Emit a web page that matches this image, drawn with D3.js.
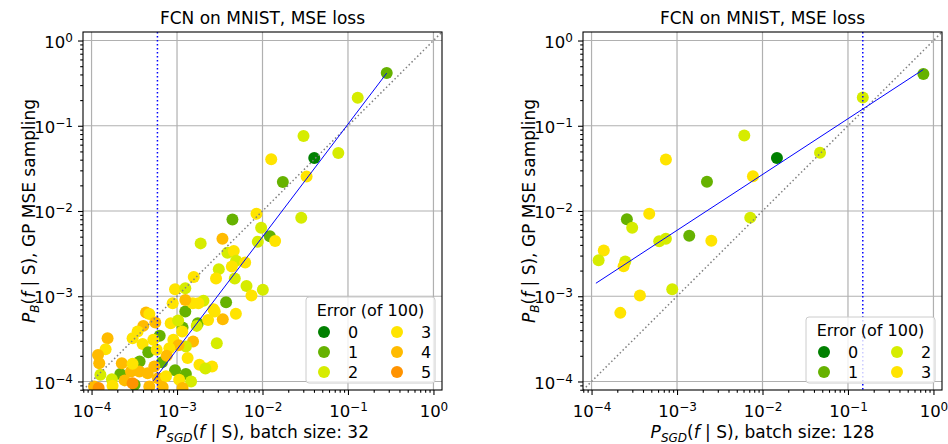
<!DOCTYPE html>
<html>
<head>
<meta charset="utf-8">
<script src="https://cdn.jsdelivr.net/npm/d3@7"></script>
<style>
  body { margin: 0; background: #fff; }
  svg { display: block; }
  text { font-family: "DejaVu Sans", sans-serif; fill: #000; }
</style>
</head>
<body>
<svg id="chart" width="948" height="444"></svg>
<script>
// ---- Data -------------------------------------------------------------
const errorLevels = [0, 1, 2, 3, 4, 5];
const errorColors = ["#008000", "#66b200", "#d6ec00", "#ffe400", "#ffbb00", "#ff9300"];
const majorTicks = [1e-4, 1e-3, 1e-2, 1e-1, 1];
const tickExponents = ["−4", "−3", "−2", "−1", "0"];

// batch size 32: P_SGD, P_B, number of errors
const sgd32 = [
  0.284, 0.130, 0.0302, 0.0403, 0.0771, 0.01265, 0.0328, 0.0173, 0.00851, 0.0284,
  0.00445, 0.00964, 0.01219, 0.01406, 0.00881, 0.00340, 0.00189, 0.00389, 0.00461, 0.00491,
  0.00627, 0.00438, 0.00308, 0.00286, 0.00474, 0.00157, 0.00650, 0.01009, 0.00743, 0.000948,
  0.00125, 0.00375, 0.00488, 0.00343, 0.00267, 0.00276, 0.00125, 0.00204, 0.00178, 0.00153,
  0.00125, 0.000889, 0.00175, 0.00170, 0.00231, 0.00116, 0.000843, 0.00103, 0.00292, 0.00154,
  0.00127, 0.00115, 0.000906, 0.00104, 0.000627, 0.000434, 0.000474, 0.000557, 0.000403, 0.000346,
  0.000302, 0.000528, 0.000396, 0.000154, 0.000146, 0.000119, 0.000123, 0.000127, 0.000461, 0.000365,
  0.000217, 0.000667, 0.000948, 0.00127, 0.000319, 0.00183, 0.00257, 0.00215, 0.00133, 0.000813,
  0.000757, 0.000226, 0.000289, 0.000362, 0.000453, 0.000173, 0.000244, 0.000598, 0.000743, 0.00106,
  0.00146, 0.000107, 0.000176, 0.000474, 0.000679, 0.00116, 0.000302, 0.000121, 0.000578, 0.000302,
  0.000542
];
const gp32 = [
  0.415, 0.213, 0.0759, 0.0419, 0.0480, 0.0405, 0.0254, 0.0219, 0.00927, 0.00832,
  0.00794, 0.00635, 0.00507, 0.00444, 0.00436, 0.00472, 0.00417, 0.00324, 0.00339, 0.00261,
  0.00249, 0.00224, 0.00208, 0.00161, 0.00161, 0.00168, 0.00132, 0.00119, 0.00102, 0.00121,
  0.00124, 0.000849, 0.000625, 0.000537, 0.000703, 0.000661, 0.000661, 0.000887, 0.000826, 0.000826,
  0.000904, 0.000826, 0.000482, 0.000449, 0.000527, 0.000429, 0.000482, 0.000518, 0.000281, 0.000294,
  0.000257, 0.000385, 0.000308, 0.000266, 0.000343, 0.000643, 0.000619, 0.000491, 0.000449, 0.000385,
  0.000321, 0.000308, 0.000276, 0.000321, 0.000239, 0.000205, 0.000164, 0.000120, 0.000220, 0.000171,
  0.000122, 0.000168, 0.000135, 0.000122, 0.0000914, 0.000157, 0.000150, 0.000142, 0.000188, 0.000245,
  0.000200, 0.000164, 0.000131, 0.000131, 0.000125, 0.000106, 0.000103, 0.000109, 0.000115, 0.000105,
  0.000100, 0.0000874, 0.0000889, 0.0000874, 0.0000859, 0.0000836, 0.0000955, 0.0000836, 0.000235, 0.000161,
  0.000150
];
const err32 = [
  1, 2, 2, 0, 2, 3, 3, 1, 3, 2,
  1, 2, 1, 3, 2, 4, 2, 2, 3, 2,
  3, 3, 2, 3, 2, 3, 2, 2, 3, 3,
  2, 1, 3, 4, 3, 3, 1, 2, 3, 3,
  4, 3, 1, 2, 3, 1, 3, 2, 2, 4,
  2, 3, 3, 4, 1, 4, 3, 4, 4, 3,
  3, 3, 3, 4, 3, 4, 4, 2, 1, 1,
  1, 1, 1, 1, 1, 3, 3, 2, 3, 3,
  4, 4, 4, 4, 4, 2, 4, 4, 3, 3,
  2, 4, 3, 4, 4, 4, 5, 5, 3, 3,
  4
];
const fit32 = [[0.000528, 0.000102], [0.284, 0.415]];
const cut32 = 0.00059;

// batch size 128: P_SGD, P_B, number of errors
const sgd128 = [
  0.762, 0.149, 0.00612, 0.01476, 0.0471, 0.000741, 0.00224, 0.00773, 0.000473, 0.000259,
  0.000299, 0.00719, 0.00139, 0.000619, 0.000741, 0.00252, 0.000139, 0.000121, 0.000248, 0.000237,
  0.000879, 0.000368, 0.000217
];
const gp128 = [
  0.406, 0.215, 0.0771, 0.0418, 0.0483, 0.0403, 0.0221, 0.0255, 0.00931, 0.00798,
  0.00638, 0.00836, 0.00514, 0.00442, 0.00474, 0.00449, 0.00343, 0.00264, 0.00255, 0.00225,
  0.00121, 0.00102, 0.000638
];
const err128 = [
  1, 2, 2, 0, 2, 3, 1, 3, 3, 1,
  2, 2, 1, 2, 2, 3, 3, 2, 2, 3,
  2, 3, 3
];
const fit128 = [[0.0001125, 0.00142], [0.762, 0.457]];
const cut128 = 0.149;

// ---- Layout -----------------------------------------------------------
const svg = d3.select("#chart");
const plotTop = 32, plotBottom = 390;
const logMin = 10 ** -4.1, logMax = 10 ** 0.1;

const minorTicks = [];
for (let e = -5; e <= 0; e++) {
  for (let m = 2; m <= 9; m++) {
    const v = m * 10 ** e;
    if (v > logMin && v < logMax) minorTicks.push(v);
  }
}

function powerLabels(sel) {
  sel.selectAll(".tick text").each(function (d) {
    const t = d3.select(this);
    const i = majorTicks.indexOf(d);
    t.text(null);
    t.append("tspan").text("10");
    t.append("tspan").attr("dy", "-0.5em").attr("font-size", "12px").text(tickExponents[i]);
  });
}

function panel(cfg) {
  const x = d3.scaleLog().domain([logMin, logMax]).range([cfg.left, cfg.right]);
  const y = d3.scaleLog().domain([logMin, logMax]).range([plotBottom, plotTop]);
  const g = svg.append("g");
  const clipId = "clip" + cfg.id;
  svg.append("clipPath").attr("id", clipId)
    .append("rect").attr("x", cfg.left).attr("y", plotTop)
    .attr("width", cfg.right - cfg.left).attr("height", plotBottom - plotTop);

  // grid
  const grid = g.append("g");
  majorTicks.forEach(v => {
    grid.append("line").attr("x1", x(v)).attr("x2", x(v)).attr("y1", plotTop).attr("y2", plotBottom)
      .attr("stroke", "#b0b0b0").attr("stroke-width", 1.2);
    grid.append("line").attr("y1", y(v)).attr("y2", y(v)).attr("x1", cfg.left).attr("x2", cfg.right)
      .attr("stroke", "#b0b0b0").attr("stroke-width", 1.2);
  });

  const plot = g.append("g").attr("clip-path", `url(#${clipId})`);

  // points
  plot.append("g").selectAll("circle")
    .data(cfg.sx.map((v, i) => ({ sx: v, py: cfg.py[i], e: cfg.err[i] })))
    .join("circle")
    .attr("cx", d => x(d.sx)).attr("cy", d => y(d.py)).attr("r", 6)
    .attr("fill", d => errorColors[d.e]);

  // y = x reference
  plot.append("line")
    .attr("x1", x(logMin)).attr("y1", y(logMin)).attr("x2", x(logMax)).attr("y2", y(logMax))
    .attr("stroke", "#808080").attr("stroke-width", 1.5).attr("stroke-dasharray", "1.5,2.5");

  // log-log fit
  plot.append("path")
    .attr("d", d3.line().x(d => x(d[0])).y(d => y(d[1]))(cfg.fit))
    .attr("fill", "none").attr("stroke", "#0000ff").attr("stroke-width", 1);

  // vertical cut
  plot.append("line")
    .attr("x1", x(cfg.cut)).attr("x2", x(cfg.cut)).attr("y1", plotTop).attr("y2", plotBottom)
    .attr("stroke", "#0000ff").attr("stroke-width", 1.5).attr("stroke-dasharray", "1.5,2.5");

  // axes
  const xMinor = g.append("g").attr("transform", `translate(0,${plotBottom})`)
    .call(d3.axisBottom(x).tickValues(minorTicks).tickSize(2.8).tickFormat(""));
  const yMinor = g.append("g").attr("transform", `translate(${cfg.left},0)`)
    .call(d3.axisLeft(y).tickValues(minorTicks).tickSize(2.8).tickFormat(""));
  const xMajor = g.append("g").attr("transform", `translate(0,${plotBottom})`)
    .call(d3.axisBottom(x).tickValues(majorTicks).tickSize(5).tickPadding(5));
  const yMajor = g.append("g").attr("transform", `translate(${cfg.left},0)`)
    .call(d3.axisLeft(y).tickValues(majorTicks).tickSize(5).tickPadding(5));
  [xMinor, yMinor, xMajor, yMajor].forEach(a => {
    a.select(".domain").remove();
    a.selectAll(".tick line").attr("stroke", "#000").attr("stroke-width", 1.1);
    a.selectAll(".tick text").attr("font-size", "16.5px").attr("font-family", "DejaVu Sans").attr("fill", "#000");
  });
  xMajor.selectAll(".tick text").attr("dy", "1em");
  yMajor.selectAll(".tick text").attr("dy", "0.4em");
  powerLabels(xMajor);
  powerLabels(yMajor);

  // frame
  g.append("rect").attr("x", cfg.left).attr("y", plotTop)
    .attr("width", cfg.right - cfg.left).attr("height", plotBottom - plotTop)
    .attr("fill", "none").attr("stroke", "#000").attr("stroke-width", 1.1);

  // title
  const cx = (cfg.left + cfg.right) / 2;
  g.append("text").attr("x", cx).attr("y", 24).attr("text-anchor", "middle")
    .attr("font-size", "17px").text("FCN on MNIST, MSE loss");

  // x label
  const xl = g.append("text").attr("x", cx).attr("y", 438).attr("text-anchor", "middle")
    .attr("font-size", "17px");
  xl.append("tspan").attr("font-style", "italic").text("P");
  xl.append("tspan").attr("font-style", "italic").attr("font-size", "12px").attr("dy", 4).text("SGD");
  xl.append("tspan").attr("dy", -4).text("(");
  xl.append("tspan").attr("font-style", "italic").text("f");
  xl.append("tspan").text(" | S), batch size: " + cfg.batch);

  // y label
  const yl = g.append("text")
    .attr("transform", `translate(${cfg.left - 48},${(plotTop + plotBottom) / 2}) rotate(-90)`)
    .attr("text-anchor", "middle").attr("font-size", "17px");
  yl.append("tspan").attr("font-style", "italic").text("P");
  yl.append("tspan").attr("font-style", "italic").attr("font-size", "12px").attr("dy", 4).text("B");
  yl.append("tspan").attr("dy", -4).text("(");
  yl.append("tspan").attr("font-style", "italic").text("f");
  yl.append("tspan").text(" | S), GP MSE sampling");

  // legend
  const levels = errorLevels.filter(l => cfg.err.includes(l));
  const rows = Math.ceil(levels.length / 2);
  const lw = 129, lh = 26 + rows * 20;
  const lx = cfg.right - 136, ly = plotBottom - 7 - lh;
  const lg = g.append("g");
  lg.append("rect").attr("x", lx).attr("y", ly).attr("width", lw).attr("height", lh)
    .attr("rx", 3).attr("fill", "#fff").attr("fill-opacity", 0.8)
    .attr("stroke", "#cccccc").attr("stroke-width", 1);
  lg.append("text").attr("x", lx + lw / 2).attr("y", ly + 19).attr("text-anchor", "middle")
    .attr("font-size", "16px").text("Error (of 100)");
  levels.forEach((l, i) => {
    const col = Math.floor(i / rows), row = i % rows;
    const mx = lx + 18 + col * 73, my = ly + 35 + row * 20;
    lg.append("circle").attr("cx", mx).attr("cy", my).attr("r", 6).attr("fill", errorColors[l]);
    lg.append("text").attr("x", mx + 24).attr("y", my + 5.5).attr("font-size", "16px").text(l);
  });
}

panel({ id: "a", left: 83, right: 442, sx: sgd32, py: gp32, err: err32, fit: fit32, cut: cut32, batch: 32 });
panel({ id: "b", left: 583, right: 942, sx: sgd128, py: gp128, err: err128, fit: fit128, cut: cut128, batch: 128 });
</script>
</body>
</html>
